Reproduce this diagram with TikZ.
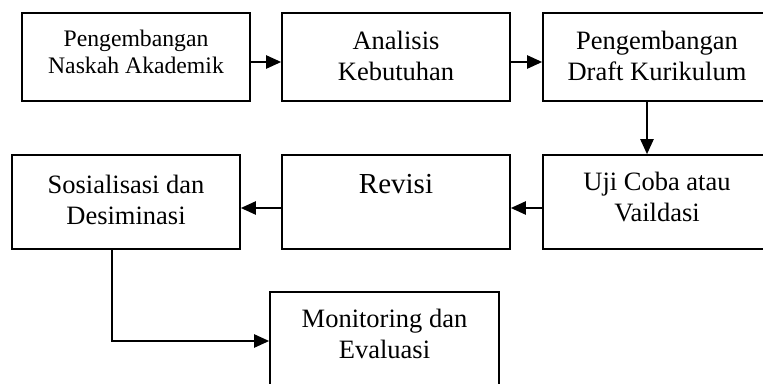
\documentclass[tikz,border=0pt]{standalone}
\usepackage{fontspec}
\setmainfont{Liberation Serif}
\usetikzlibrary{arrows.meta}
\begin{document}
\begin{tikzpicture}[x=1pt,y=-1pt,
  box/.style={draw, line width=1.6pt, inner sep=0pt, rectangle, minimum width=228pt},
  lbl/.style={align=center, anchor=base, inner sep=0pt, font=\fontsize{26.5}{31}\selectfont},
  arr/.style={line width=2.2pt, -{Triangle[length=15pt,width=13pt]}}]
\useasboundingbox (0,0) rectangle (763,383);
\clip (0,0) rectangle (763,383);
% boxes
\node[box, minimum height=88pt] (b1) at (136,57) {};
\node[box, minimum height=88pt] (b2) at (396,57) {};
\node[box, minimum height=88pt] (b3) at (657,57) {};
\node[box, minimum height=94pt] (b4) at (657,202) {};
\node[box, minimum height=94pt] (b5) at (396,202) {};
\node[box, minimum height=94pt] (b6) at (126,202) {};
\node[box, minimum width=229pt, minimum height=98pt] (b7) at (384.5,341) {};
% texts (base anchor = baseline of the last line)
\node[lbl, font=\fontsize{23.7}{26.5}\selectfont] (t1) at (136,73) {Pengembangan\\Naskah Akademik};
\node[lbl] (t2) at (396,80) {Analisis\\Kebutuhan};
\node[lbl] (t3) at (657,80) {Pengembangan\\Draft Kurikulum};
\node[lbl] (t4) at (657,221) {Uji Coba atau\\Vaildasi};
\node[lbl, font=\fontsize{29}{33}\selectfont] (t5) at (396,193) {Revisi};
\node[lbl] (t6) at (126,224) {Sosialisasi dan\\Desiminasi};
\node[lbl] (t7) at (384.5,358) {Monitoring dan\\Evaluasi};
% connectors
\draw[arr] ([yshift=-5pt]b1.east) -- ([yshift=-5pt]b2.west);
\draw[arr] ([yshift=-5pt]b2.east) -- ([yshift=-5pt]b3.west);
\draw[arr] ([xshift=-10pt]b3.south) -- ([xshift=-10pt]b4.north);
\draw[arr] ([yshift=-6pt]b4.west) -- ([yshift=-6pt]b5.east);
\draw[arr] ([yshift=-6pt]b5.west) -- ([yshift=-6pt]b6.east);
\draw[arr] ([xshift=-14pt]b6.south) |- (b7.west);
\end{tikzpicture}
\end{document}
